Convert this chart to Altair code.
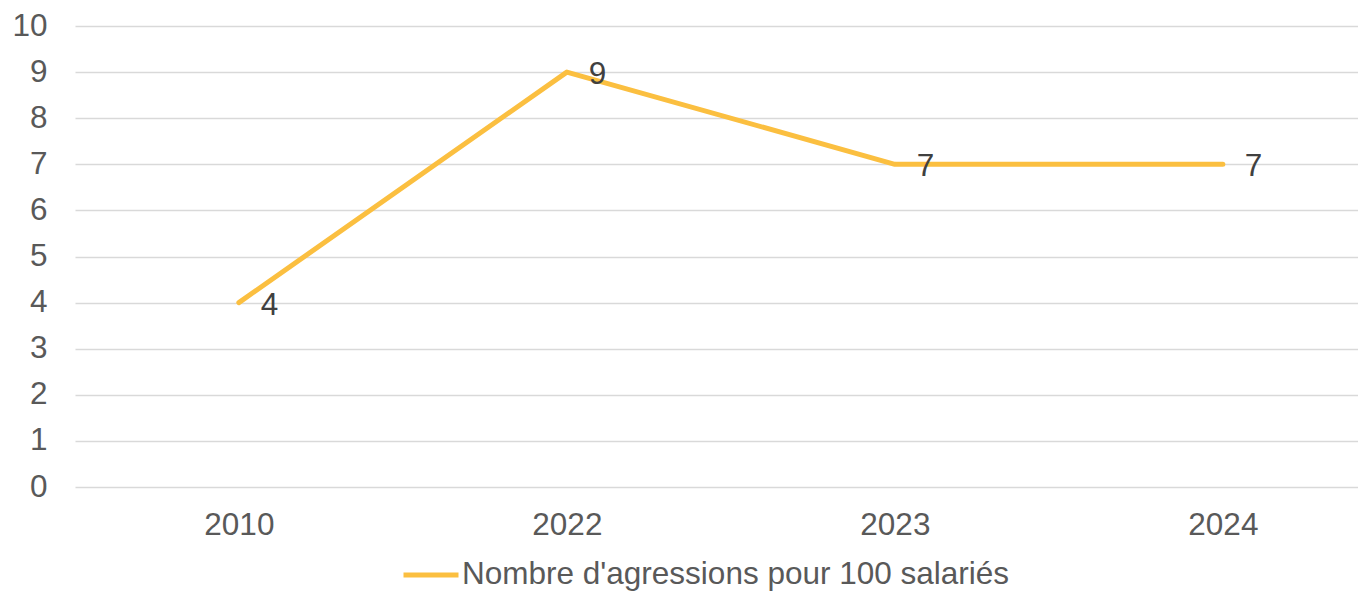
import altair as alt
import pandas as pd

years = ["2010", "2022", "2023", "2024"]
values = [4, 9, 7, 7]
series = "Nombre d'agressions pour 100 salariés"

df = pd.DataFrame({"annee": years, "valeur": values, "serie": [series] * len(years)})

FONT = "Liberation Sans"
LINE_COLOR = "#FBBF40"
FS = 31.5

x_enc = alt.X(
    "annee:N",
    sort=years,
    scale=alt.Scale(type="point", padding=0.4558, align=0.548),
    axis=alt.Axis(
        title=None, domain=False, ticks=False, grid=False,
        labelFont=FONT, labelFontSize=FS, labelColor="#595959",
        labelPadding=22, labelAngle=0,
    ),
)
y_enc = alt.Y(
    "valeur:Q",
    scale=alt.Scale(domain=[0, 10], nice=False),
    axis=alt.Axis(
        title=None, domain=False, ticks=False,
        values=list(range(0, 11)),
        grid=True, gridColor="#D9D9D9", gridWidth=1.5,
        labelFont=FONT, labelFontSize=FS, labelColor="#595959",
        labelPadding=28,
    ),
)

line = alt.Chart(df).mark_line(strokeWidth=5, strokeCap="round", strokeJoin="round").encode(
    x=x_enc,
    y=y_enc,
    color=alt.Color(
        "serie:N",
        scale=alt.Scale(range=[LINE_COLOR]),
        legend=alt.Legend(
            title=None, orient="none", legendX=326, legendY=519,
            direction="horizontal",
            symbolType="stroke", symbolSize=3025, symbolStrokeWidth=5,
            labelFont=FONT, labelFontSize=FS, labelColor="#595959",
            labelOffset=1, labelLimit=800,
        ),
    ),
)

labels = alt.Chart(df).mark_text(
    align="left", baseline="middle", dx=22, dy=3,
    font=FONT, fontSize=FS, color="#404040",
).encode(
    x=alt.X("annee:N", sort=years),
    y=alt.Y("valeur:Q"),
    text=alt.Text("valeur:Q"),
)

chart = (
    alt.layer(line, labels)
    .properties(
        width=1283, height=461,
        autosize=alt.AutoSizeParams(type="none"),
        padding={"left": 67, "top": 18, "right": 0, "bottom": 105},
    )
    .configure(background="white")
    .configure_view(strokeWidth=0, stroke="transparent")
)

chart.save("out.html", embed_options={"renderer": "svg", "actions": False})
